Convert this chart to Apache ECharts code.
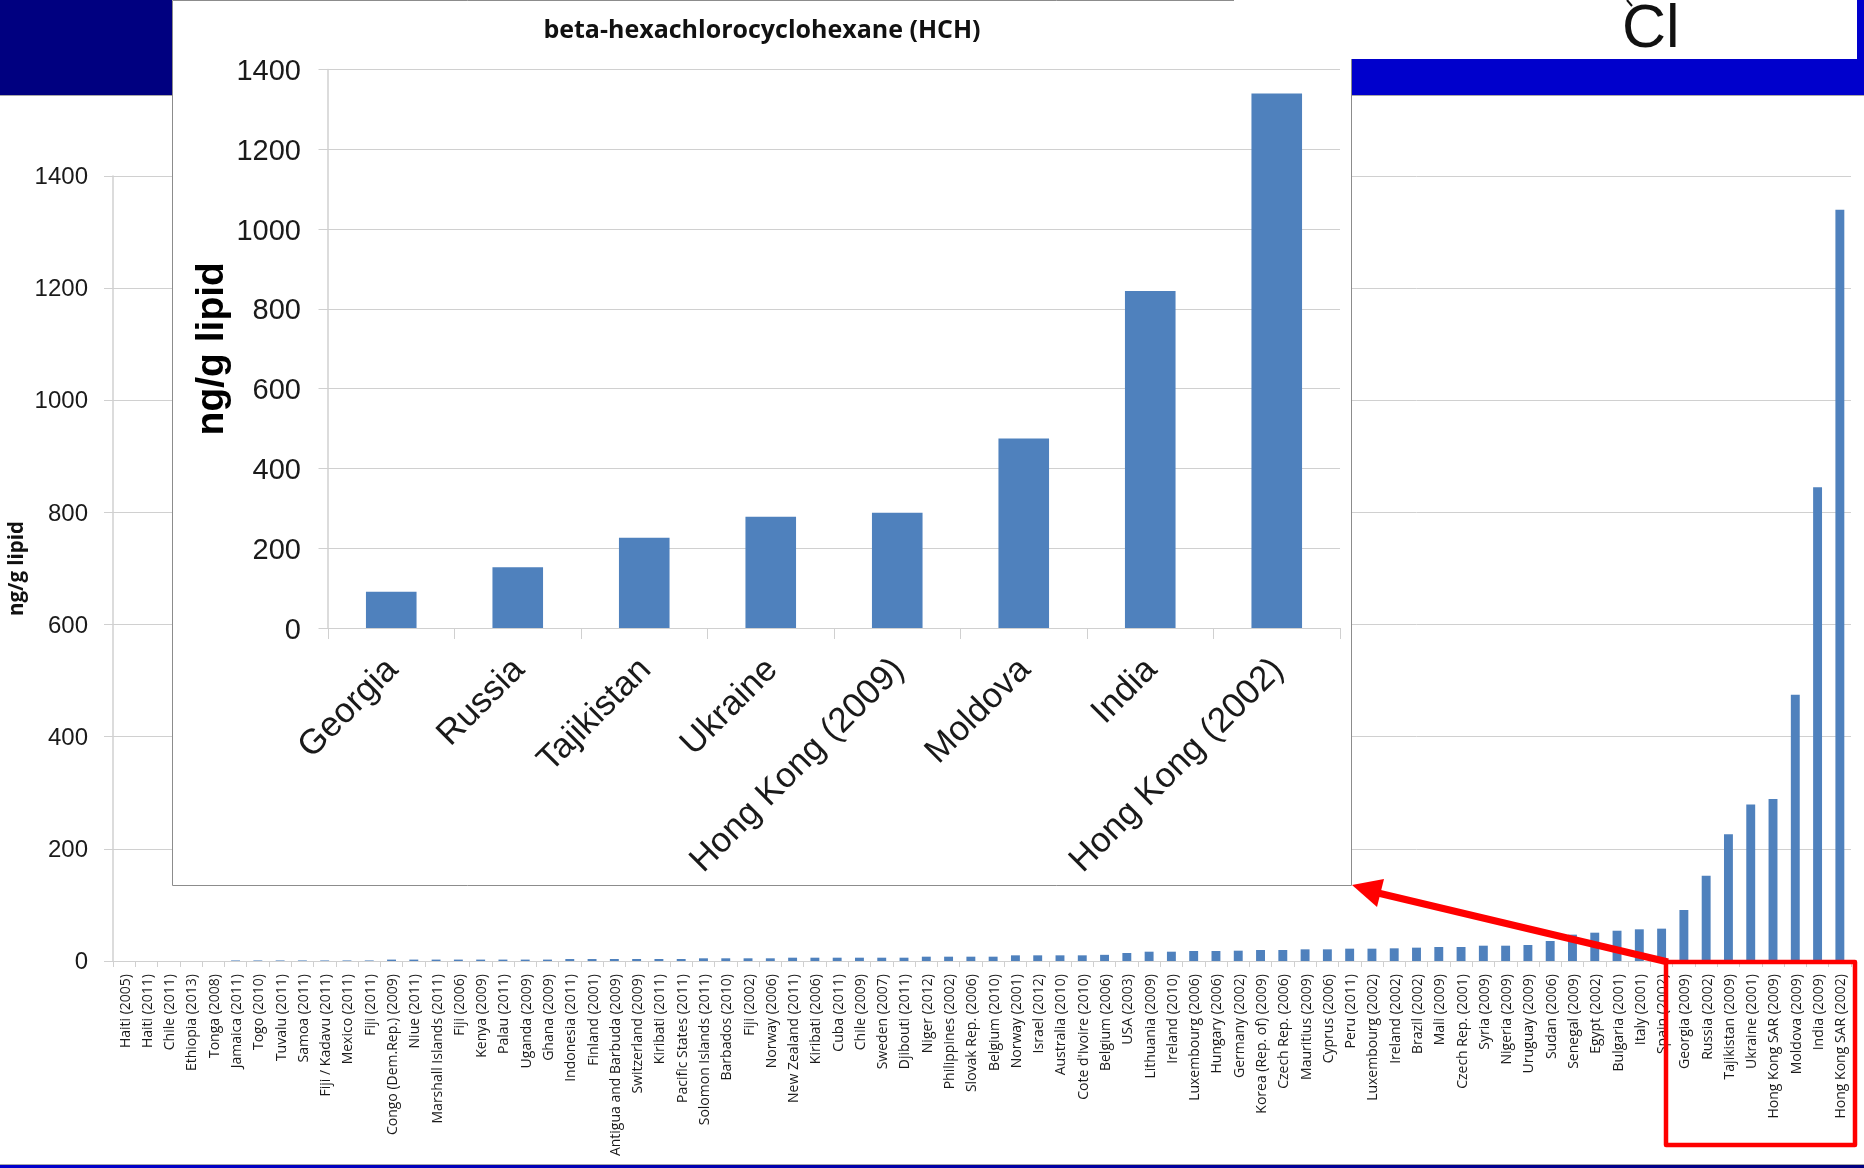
<!DOCTYPE html>
<html>
<head>
<meta charset="utf-8">
<title>beta-hexachlorocyclohexane (HCH)</title>
<script src="https://cdn.jsdelivr.net/npm/echarts@6/dist/echarts.min.js"></script>
<style>
  html, body { margin: 0; padding: 0; background: #fff; }
  #chart { width: 1864px; height: 1168px; }
</style>
</head>
<body>
<div id="chart"></div>
<script>
// All survey entries, ranked by concentration
const surveyCategories = [
  "Haiti (2005)", "Haiti (2011)", "Chile (2011)", "Ethiopia (2013)", "Tonga (2008)", "Jamaica (2011)",
  "Togo (2010)", "Tuvalu (2011)", "Samoa (2011)", "Fiji / Kadavu (2011)", "Mexico (2011)", "Fiji (2011)",
  "Congo (Dem.Rep.) (2009)", "Niue (2011)", "Marshall Islands (2011)", "Fiji (2006)", "Kenya (2009)",
  "Palau (2011)", "Uganda (2009)", "Ghana (2009)", "Indonesia (2011)", "Finland (2001)",
  "Antigua and Barbuda (2009)", "Switzerland (2009)", "Kiribati (2011)", "Pacific States (2011)",
  "Solomon Islands (2011)", "Barbados (2010)", "Fiji (2002)", "Norway (2006)", "New Zealand (2011)",
  "Kiribati (2006)", "Cuba (2011)", "Chile (2009)", "Sweden (2007)", "Djibouti (2011)", "Niger (2012)",
  "Philippines (2002)", "Slovak Rep. (2006)", "Belgium (2010)", "Norway (2001)", "Israel (2012)",
  "Australia (2010)", "Cote d'Ivoire (2010)", "Belgium (2006)", "USA (2003)", "Lithuania (2009)",
  "Ireland (2010)", "Luxembourg (2006)", "Hungary (2006)", "Germany (2002)", "Korea (Rep. of) (2009)",
  "Czech Rep. (2006)", "Mauritius (2009)", "Cyprus (2006)", "Peru (2011)", "Luxembourg (2002)",
  "Ireland (2002)", "Brazil (2002)", "Mali (2009)", "Czech Rep. (2001)", "Syria (2009)", "Nigeria (2009)",
  "Uruguay (2009)", "Sudan (2006)", "Senegal (2009)", "Egypt (2002)", "Bulgaria (2001)", "Italy (2001)",
  "Spain (2002)", "Georgia (2009)", "Russia (2002)", "Tajikistan (2009)", "Ukraine (2001)",
  "Hong Kong SAR (2009)", "Moldova (2009)", "India (2009)", "Hong Kong SAR (2002)"
];
const surveyValues = [
  0, 0, 0, 0, 0, 1, 1, 1, 1, 1, 1, 1, 2.5, 2.5, 2.5, 2.5, 2.5, 2.5, 2.5, 2.5, 3.5, 3.5,
  3.6, 3.6, 3.6, 3.6, 4.8, 4.8, 4.8, 4.8, 5.9, 5.9, 5.9, 5.9, 5.9, 5.9, 7.7, 7.7, 7.7, 7.7,
  10.1, 10.1, 10.1, 10.1, 11, 14.3, 16.6, 16.6, 17.8, 17.8, 18.4, 19.6, 19.6, 20.8, 20.8, 22, 22,
  22.6, 23.8, 25, 25, 27.3, 27.3, 28.5, 35.7, 47, 50.5, 54, 56.5, 57.7, 91, 152, 226, 279, 289,
  475, 845, 1340
];

// Enlarged view of the eight highest entries
const topCategories = ["Georgia", "Russia", "Tajikistan", "Ukraine", "Hong Kong (2009)", "Moldova", "India", "Hong Kong (2002)"];
const topValues = [91, 152, 226, 279, 289, 475, 845, 1340];

const chartTitle = "beta-hexachlorocyclohexane (HCH)";
const unitLabel = "ng/g lipid";
const chlorineLabel = "Cl";

const BAR = "#4f81bd";
const RULE = "#d0d0d0";
const INK = "#1a1a1a";
const ARIAL = "Liberation Sans";
const BODY = "Open Sans";
const RED = "#ff0000";

// Labels go through a rich-text token so a little top padding can settle them against their ticks
const nudged = (v) => "{t|" + v + "}";
const labelToken = (family, size, top) => ({
  t: { fontFamily: family, fontSize: size, color: INK, padding: [top, 0, 0, 0] }
});

const chart = echarts.init(document.getElementById("chart"), null, { renderer: "canvas" });

chart.setOption({
  animation: false,
  backgroundColor: "#ffffff",
  title: {
    text: chartTitle, left: 757, top: 13, textAlign: "center", z: 12,
    textStyle: { fontFamily: BODY, fontWeight: "bold", fontSize: 25, color: "#111111" }
  },
  grid: [
    { left: 113, top: 176, width: 1738, height: 785, outerBoundsMode: "none" },
    { left: 328, top: 69.5, width: 1012, height: 558.5, outerBoundsMode: "none" }
  ],
  xAxis: [
    {
      type: "category", gridIndex: 0, data: surveyCategories, z: 1,
      axisLine: { lineStyle: { color: RULE, width: 1 } },
      axisTick: { show: true, length: 6, lineStyle: { color: RULE } },
      axisLabel: {
        interval: 0, rotate: 90, margin: 13, hideOverlap: false,
        formatter: nudged, rich: labelToken(BODY, 14, 3)
      }
    },
    {
      type: "category", gridIndex: 1, data: topCategories, z: 8,
      axisLine: { lineStyle: { color: RULE, width: 1 } },
      axisTick: { show: true, length: 11, lineStyle: { color: RULE } },
      axisLabel: {
        interval: 0, rotate: 45, margin: 35, hideOverlap: false,
        formatter: nudged, rich: labelToken(ARIAL, 35, 4)
      }
    }
  ],
  yAxis: [
    {
      type: "value", gridIndex: 0, min: 0, max: 1400, interval: 200, z: 1,
      name: unitLabel, nameLocation: "middle", nameGap: 85, nameRotate: 90, nameMoveOverlap: false,
      nameTextStyle: { fontFamily: BODY, fontWeight: "bold", fontSize: 20.5, color: "#111111" },
      axisLine: { show: true, lineStyle: { color: RULE, width: 1.5 } },
      axisTick: { show: true, length: 9, lineStyle: { color: RULE } },
      splitLine: { show: true, lineStyle: { color: RULE, width: 1 } },
      axisLabel: { margin: 25, formatter: nudged, rich: labelToken(ARIAL, 24, 3) }
    },
    {
      type: "value", gridIndex: 1, min: 0, max: 1400, interval: 200, z: 8,
      name: unitLabel, nameLocation: "middle", nameGap: 96, nameRotate: 90, nameMoveOverlap: false,
      nameTextStyle: { fontFamily: ARIAL, fontWeight: "bold", fontSize: 39, color: "#000000" },
      axisLine: { show: true, lineStyle: { color: RULE, width: 1.5 } },
      axisTick: { show: true, length: 9.5, lineStyle: { color: RULE } },
      splitLine: { show: true, lineStyle: { color: RULE, width: 1 } },
      axisLabel: { margin: 27, formatter: nudged, rich: labelToken(ARIAL, 29, 5) }
    }
  ],
  series: [
    {
      type: "bar", xAxisIndex: 0, yAxisIndex: 0, data: surveyValues, z: 2,
      barCategoryGap: "60%", itemStyle: { color: BAR }
    },
    {
      type: "bar", xAxisIndex: 1, yAxisIndex: 1, data: topValues, z: 9,
      barCategoryGap: "60%", itemStyle: { color: BAR }
    }
  ],
  graphic: [
    // Slide furniture: header bands, footer band and the white panels
    { type: "rect", z: 5, shape: { x: 0, y: 0, width: 172, height: 95 }, style: { fill: "#000080" } },
    { type: "rect", z: 5, shape: { x: 1352, y: 59, width: 512, height: 36 }, style: { fill: "#0000cc" } },
    { type: "rect", z: 5, shape: { x: 1857, y: 0, width: 7, height: 60 }, style: { fill: "#0000cc" } },
    { type: "rect", z: 5, shape: { x: 0, y: 95, width: 172, height: 1 }, style: { fill: "#a8a8a8" } },
    { type: "rect", z: 5, shape: { x: 1352, y: 95, width: 512, height: 1 }, style: { fill: "#a8a8a8" } },
    { type: "rect", z: 5, shape: { x: 0, y: 1164, width: 1864, height: 1 }, style: { fill: "#a8a8a8" } },
    {
      type: "rect", z: 5, shape: { x: 0, y: 1165, width: 1864, height: 3 },
      style: {
        fill: new echarts.graphic.LinearGradient(0, 0, 1, 0, [
          { offset: 0, color: "#0000cc" }, { offset: 1, color: "#000080" }
        ])
      }
    },
    {
      type: "rect", z: 6, shape: { x: 172.5, y: 0.5, width: 1179, height: 885 },
      style: { fill: "#ffffff", stroke: "#8c8c8c", lineWidth: 1 }
    },
    { type: "rect", z: 6, shape: { x: 1234, y: 0, width: 623, height: 59 }, style: { fill: "#ffffff" } },

    // Chlorine atom of the structure sketch
    { type: "line", z: 7, shape: { x1: 1627, y1: 0, x2: 1632, y2: 6 }, style: { stroke: "#111111", lineWidth: 2 } },
    {
      type: "text", z: 7, x: 1622, y: 0,
      style: { text: chlorineLabel, fontFamily: ARIAL, fontSize: 61, fill: "#111111", textVerticalAlign: "top" }
    },

    // Callout tying the highlighted bars to the enlarged view
    {
      type: "rect", z: 20, shape: { x: 1666, y: 962, width: 189, height: 183 },
      style: { fill: null, stroke: RED, lineWidth: 4.5, lineJoin: "round" }
    },
    { type: "line", z: 20, shape: { x1: 1668, y1: 962, x2: 1378, y2: 893 }, style: { stroke: RED, lineWidth: 7 } },
    {
      type: "polygon", z: 20, shape: { points: [[1352, 885], [1384, 879], [1377, 907]] },
      style: { fill: RED }
    }
  ]
});
</script>
</body>
</html>
